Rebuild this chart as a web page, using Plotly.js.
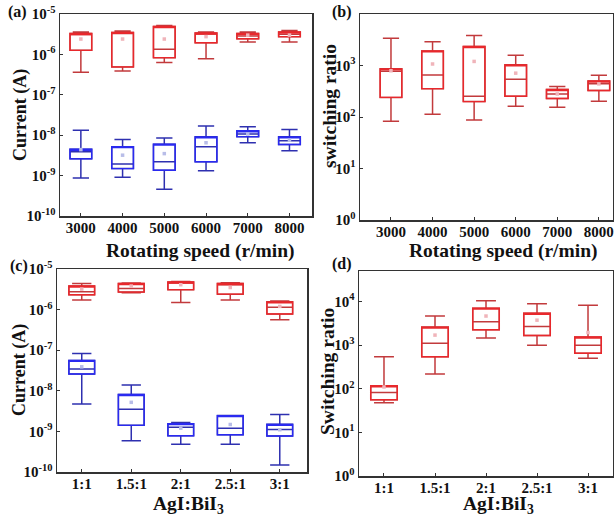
<!DOCTYPE html>
<html>
<head>
<meta charset="utf-8">
<script src="https://cdn.plot.ly/plotly-3.0.1.min.js"></script>
<style>html,body{margin:0;padding:0;background:#fff;}#chart{width:614px;height:517px;}</style>
</head>
<body>
<div id="chart"></div>
<script>
// ---------- data ----------
const speeds = ['3000','4000','5000','6000','7000','8000'];
const ratios = ['1:1','1.5:1','2:1','2.5:1','3:1'];

// (a) current vs rotating speed, ON state (red)
const aOnMin  = [3.6e-7, 3.9e-7, 6.3e-7, 7.8e-7, 2.03e-6, 2.03e-6];
const aOnQ1   = [1.26e-6, 4.9e-7, 8.3e-7, 1.95e-6, 2.45e-6, 2.75e-6];
const aOnMed  = [3.2e-6, 3.4e-6, 1.34e-6, 3.2e-6, 2.85e-6, 3.15e-6];
const aOnQ3   = [3.3e-6, 3.5e-6, 4.9e-6, 3.4e-6, 3.3e-6, 3.6e-6];
const aOnMax  = [3.6e-6, 3.8e-6, 5.2e-6, 3.6e-6, 3.6e-6, 3.9e-6];
const aOnMean = [2.4e-6, 2.4e-6, 2.4e-6, 2.75e-6, 3.0e-6, 3.0e-6];
// (a) OFF state (blue)
const aOffMin  = [8.7e-10, 9.1e-10, 4.6e-10, 1.32e-9, 6.5e-9, 4.1e-9];
const aOffQ1   = [2.6e-9, 1.49e-9, 1.36e-9, 2.2e-9, 9.2e-9, 5.9e-9];
const aOffMed  = [3.9e-9, 1.95e-9, 2.2e-9, 5.2e-9, 1.07e-8, 7.3e-9];
const aOffQ3   = [4.5e-9, 5.2e-9, 6.0e-9, 9.1e-9, 1.29e-8, 9.1e-9];
const aOffMax  = [1.32e-8, 7.8e-9, 8.5e-9, 1.7e-8, 1.63e-8, 1.38e-8];
const aOffMean = [4.4e-9, 3.2e-9, 3.5e-9, 6.5e-9, 1.07e-8, 7.5e-9];

// (b) switching ratio vs rotating speed
const bMin  = [83, 113, 87, 162, 154, 202];
const bQ1   = [240, 355, 199, 253, 228, 326];
const bMed  = [770, 655, 253, 540, 280, 440];
const bQ3   = [860, 1920, 2340, 1030, 342, 500];
const bMax  = [3400, 2880, 3830, 1590, 390, 650];
const bMean = [790, 1070, 1200, 710, 280, 440];

// (c) current vs AgI:BiI3, ON (red)
const cOnMin  = [1.73e-6, 2.6e-6, 1.5e-6, 1.73e-6, 5.6e-7];
const cOnQ1   = [2.33e-6, 2.7e-6, 3.1e-6, 2.4e-6, 7.8e-7];
const cOnMed  = [2.76e-6, 3.3e-6, 4.5e-6, 4.1e-6, 1.14e-6];
const cOnQ3   = [3.8e-6, 4.4e-6, 4.8e-6, 4.4e-6, 1.55e-6];
const cOnMax  = [4.4e-6, 4.5e-6, 4.9e-6, 4.6e-6, 1.63e-6];
const cOnMean = [3.2e-6, 3.8e-6, 4.1e-6, 3.5e-6, 1.2e-6];
// (c) OFF (blue)
const cOffMin  = [4.7e-9, 5.9e-10, 4.8e-10, 4.8e-10, 1.48e-10];
const cOffQ1   = [2.6e-8, 1.41e-9, 7.8e-10, 8.3e-10, 7.7e-10];
const cOffMed  = [3.45e-8, 3.5e-9, 1.26e-9, 1.2e-9, 1.12e-9];
const cOffQ3   = [5.6e-8, 8.1e-9, 1.55e-9, 2.45e-9, 1.49e-9];
const cOffMax  = [8.3e-8, 1.38e-8, 1.66e-9, 2.45e-9, 2.6e-9];
const cOffMean = [3.9e-8, 5.2e-9, 1.2e-9, 1.48e-9, 1.1e-9];

// (d) switching ratio vs AgI:BiI3
const dMin  = [48, 219, 1450, 1000, 500];
const dQ1   = [56, 540, 2250, 1670, 650];
const dMed  = [82, 1100, 3440, 2680, 1000];
const dQ3   = [117, 2590, 7060, 5400, 1540];
const dMax  = [540, 4650, 10400, 8850, 8260];
const dMean = [110, 1700, 4650, 3740, 1950];

// tick labels
const curTickVals = [1e-10, 1e-9, 1e-8, 1e-7, 1e-6, 1e-5];
const curTickText = ['10<sup>-10</sup>','10<sup>-9</sup>','10<sup>-8</sup>','10<sup>-7</sup>','10<sup>-6</sup>','10<sup>-5</sup>'];
const ratioTickValsB = [1, 10, 100, 1000];
const ratioTickTextB = ['10<sup>0</sup>','10<sup>1</sup>','10<sup>2</sup>','10<sup>3</sup>'];
const ratioTickValsD = [1, 10, 100, 1000, 10000];
const ratioTickTextD = ['10<sup>0</sup>','10<sup>1</sup>','10<sup>2</sup>','10<sup>3</sup>','10<sup>4</sup>'];

// ---------- styling ----------
const RED_BOX = '#e8282c', RED_WH = '#c23a3c';
const BLUE_BOX = '#2a2af0', BLUE_WH = '#2e30b0';
const RED_MEAN = '#f0b4ba', BLUE_MEAN = '#b8bde8';
const FONT = 'Liberation Serif, Times New Roman, serif';
const BW = 0.52;

// full box (whiskers + median) in the darker colour, then box outline in the brighter colour
function boxes(x, lo, q1, med, q3, hi, cBox, cWh, xa, ya) {
  const base = {type: 'box', x: x, lowerfence: lo, q1: q1, median: med, q3: q3, upperfence: hi,
    xaxis: xa, yaxis: ya, width: BW, whiskerwidth: 0.75,
    line: {color: cWh, width: 1.5}, fillcolor: 'rgba(0,0,0,0)',
    boxpoints: false, hoverinfo: 'skip', showlegend: false};
  const outline = {type: 'box', x: x, lowerfence: q1, q1: q1, median: q3, q3: q3, upperfence: q3,
    xaxis: xa, yaxis: ya, width: BW, whiskerwidth: 0,
    line: {color: cBox, width: 1.4}, fillcolor: 'rgba(0,0,0,0)',
    boxpoints: false, hoverinfo: 'skip', showlegend: false};
  return [base, outline];
}
function mean(x, y, color, xa, ya) {
  return {type: 'scatter', mode: 'markers', x: x, y: y, xaxis: xa, yaxis: ya,
    marker: {symbol: 'square', size: 3.5, color: color}, showlegend: false, hoverinfo: 'skip'};
}

const data = [
  ...boxes(speeds, aOnMin, aOnQ1, aOnMed, aOnQ3, aOnMax, RED_BOX, RED_WH, 'x', 'y'),
  ...boxes(speeds, aOffMin, aOffQ1, aOffMed, aOffQ3, aOffMax, BLUE_BOX, BLUE_WH, 'x', 'y'),
  mean(speeds, aOnMean, RED_MEAN, 'x', 'y'),
  mean(speeds, aOffMean, BLUE_MEAN, 'x', 'y'),
  ...boxes(speeds, bMin, bQ1, bMed, bQ3, bMax, RED_BOX, RED_WH, 'x2', 'y2'),
  mean(speeds, bMean, RED_MEAN, 'x2', 'y2'),
  ...boxes(ratios, cOnMin, cOnQ1, cOnMed, cOnQ3, cOnMax, RED_BOX, RED_WH, 'x3', 'y3'),
  ...boxes(ratios, cOffMin, cOffQ1, cOffMed, cOffQ3, cOffMax, BLUE_BOX, BLUE_WH, 'x3', 'y3'),
  mean(ratios, cOnMean, RED_MEAN, 'x3', 'y3'),
  mean(ratios, cOffMean, BLUE_MEAN, 'x3', 'y3'),
  ...boxes(ratios, dMin, dQ1, dMed, dQ3, dMax, RED_BOX, RED_WH, 'x4', 'y4'),
  mean(ratios, dMean, RED_MEAN, 'x4', 'y4')
];

const W = 614, H = 517;
function dx(a, b) { return [a / W, b / W]; }
function dy(top, bottom) { return [1 - bottom / H, 1 - top / H]; }

const tickFont = {family: FONT, size: 15, color: '#111', weight: 'bold'};

function xax(domain, range, anchor) {
  return {domain: domain, range: range, anchor: anchor, type: 'category',
    showline: true, mirror: true, linecolor: '#333', linewidth: 1.5,
    ticks: 'inside', ticklen: 3, tickcolor: '#333', showgrid: false, zeroline: false,
    ticklabelstandoff: -3, tickfont: tickFont};
}
function yax(domain, range, anchor, tv, tt) {
  return {domain: domain, range: range, anchor: anchor, type: 'log',
    showline: true, mirror: true, linecolor: '#333', linewidth: 1.5,
    ticks: 'inside', ticklen: 3, tickcolor: '#333', showgrid: false, zeroline: false,
    tickvals: tv, ticktext: tt, tickfont: tickFont};
}

function txt(t, x, y, size, angle) {
  return {text: t, x: x / W, y: 1 - y / H, xref: 'paper', yref: 'paper', xanchor: 'center', yanchor: 'middle',
    showarrow: false, textangle: angle || 0,
    font: {family: FONT, size: size, color: '#111', weight: 'bold'}};
}

const layout = {
  width: W, height: H, margin: {l: 0, r: 0, t: 0, b: 0},
  paper_bgcolor: '#fff', plot_bgcolor: '#fff',
  boxmode: 'overlay', showlegend: false,
  font: {family: FONT},
  xaxis:  xax(dx(60, 312), [-0.5, 5.54], 'y'),
  yaxis:  yax(dy(14, 216), [-10, -5], 'x', curTickVals, curTickText),
  xaxis2: xax(dx(360, 613), [-0.745, 5.34], 'y2'),
  yaxis2: yax(dy(14, 220), [0, 4], 'x2', ratioTickValsB, ratioTickTextB),
  xaxis3: xax(dx(57, 307), [-0.5, 4.55], 'y3'),
  yaxis3: yax(dy(269, 472), [-10, -5], 'x3', curTickVals, curTickText),
  xaxis4: xax(dx(359, 613), [-0.49, 4.49], 'y4'),
  yaxis4: yax(dy(271, 476), [0, 4.7], 'x4', ratioTickValsD, ratioTickTextD),
  annotations: [
    txt('(a)', 17, 12, 16),
    txt('(b)', 342, 12, 16),
    txt('(c)', 19, 266, 16),
    txt('(d)', 342, 264, 16),
    txt('Rotating speed (r/min)', 200, 251, 19.5),
    txt('Rotating speed (r/min)', 503, 251, 19.5),
    txt('AgI:BiI<sub>3</sub>', 188, 505, 19.5),
    txt('AgI:BiI<sub>3</sub>', 498, 505, 19.5),
    txt('Current (A)', 21, 115, 18, -90),
    txt('switching ratio', 329, 106, 19.5, -90),
    txt('Current (A)', 19, 370, 18, -90),
    txt('Switching ratio', 327, 372, 19.5, -90)
  ]
};

Plotly.newPlot('chart', data, layout, {staticPlot: true, displayModeBar: false});
</script>
</body>
</html>
